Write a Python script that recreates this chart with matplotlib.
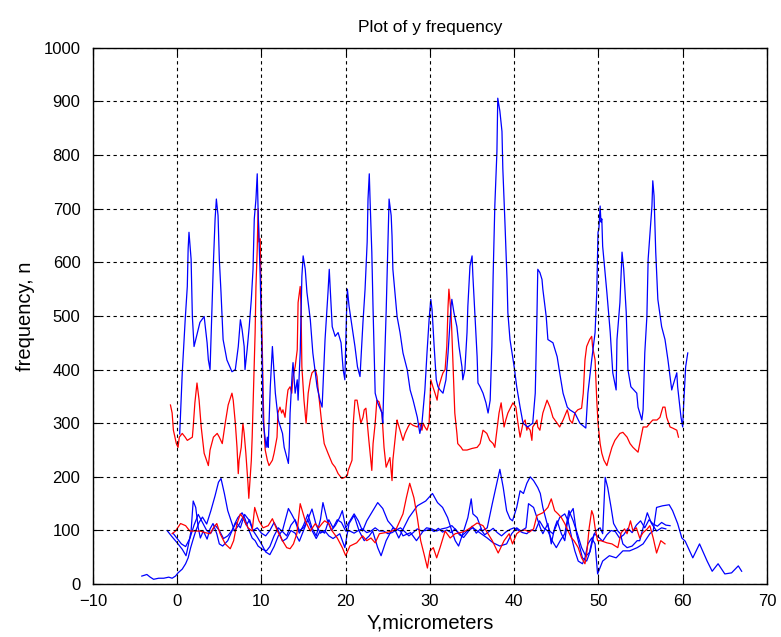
import numpy as np
import matplotlib
matplotlib.use("Agg")
import matplotlib.pyplot as plt

plt.rcParams["font.family"] = ["Liberation Sans", "DejaVu Sans"]

# =========================
# 数据
# =========================

# 上方蓝线
B_HIGH_X = [0.3, 0.6, 0.95, 1.2, 1.3, 1.4, 1.65, 1.8, 2.0, 2.4, 2.7, 3.2, 3.55, 3.7, 3.9, 4.15, 4.3, 4.5,
            4.65, 4.85, 5.0, 5.2, 5.45, 5.9, 6.5, 6.9, 7.25, 7.5, 7.7, 7.95, 8.05, 8.3, 8.55, 8.8, 9.0,
            9.15, 9.35, 9.5, 9.6, 9.85, 10.1, 10.2, 10.55, 10.7, 10.8, 11.05, 11.3, 11.4, 11.65, 12.0,
            12.5, 12.7, 13.2, 13.3, 13.4, 13.65, 13.75, 14.0, 14.25, 14.35, 14.6, 14.8, 14.95, 15.2,
            15.4, 15.8, 16.1, 16.6, 16.95, 17.2, 17.55, 17.9, 18.05, 18.15, 18.4, 18.75, 19.1, 19.45,
            19.7, 19.9, 20.1, 20.2, 20.4, 20.8, 21.1, 21.4, 21.7, 21.9, 22.05, 22.3, 22.55, 22.65, 22.8,
            22.9, 23.1, 23.25, 23.5, 23.8, 24.3, 24.4, 24.55, 24.8, 25.0, 25.15, 25.4, 25.5, 25.6, 26.1,
            26.45, 26.8, 27.3, 27.65, 28.0, 28.5, 28.8, 29.05, 29.4, 29.65, 29.9, 30.1, 30.25, 30.5,
            30.75, 30.95, 31.2, 31.55, 31.9, 32.15, 32.5, 32.6, 32.85, 33.2, 33.45, 33.8, 33.9, 34.15,
            34.4, 34.5, 34.75, 35.0, 35.1, 35.35, 35.6, 35.7, 35.95, 36.3, 36.65, 36.9, 37.15, 37.35,
            37.5, 37.7, 37.95, 38.05, 38.3, 38.55, 38.65, 38.9, 39.15, 39.25, 39.5, 39.75, 40.0, 40.3,
            40.7, 41.05, 41.6, 42.2, 42.5, 42.7, 42.8, 43.05, 43.3, 43.4, 43.8, 44.0, 44.6, 45.1, 45.4,
            45.8, 46.3, 46.6, 47.2, 47.8, 48.5, 48.75, 49.2, 49.6, 49.8, 49.95, 50.05, 50.2, 50.3, 50.4,
            50.5, 51.0, 51.4, 51.7, 52.1, 52.2, 52.55, 52.8, 53.0, 53.3, 53.5, 53.85, 54.2, 54.55, 54.7,
            55.15, 55.3, 55.5, 55.75, 55.9, 56.35, 56.45, 56.6, 56.8, 57.05, 57.5, 57.9, 58.25, 58.7,
            58.8, 59.3, 59.4, 59.8, 60.0, 60.1, 60.35, 60.6]
B_HIGH_Y = [280, 394, 493, 555, 625, 656, 606, 499, 443, 469, 488, 499, 450, 418, 400, 525, 600, 681,
            718, 687, 606, 544, 456, 418, 396, 400, 443, 493, 475, 443, 400, 437, 480, 531, 587,
            681, 718, 765, 700, 574, 405, 306, 255, 274, 255, 368, 443, 418, 356, 306,
            281, 255, 225, 255, 319, 394, 413, 356, 381, 343, 431, 574, 612, 587,
            544, 493, 431, 368, 343, 330, 456, 544, 587, 555, 480, 462, 469, 450,
            400, 381, 506, 550, 518, 475, 443, 405, 387, 443, 488, 550, 638, 718, 765,
            713, 619, 512, 356, 338, 319, 300, 381, 506, 630, 718, 687, 649, 587, 499,
            469, 431, 400, 362, 343, 311, 281, 300, 362, 431, 493, 531, 512, 443,
            381, 368, 362, 356, 381, 431, 518, 531, 506, 480, 443, 405, 381, 400,
            469, 518, 593, 612, 574, 499, 424, 375, 368, 356, 338, 319, 343, 443,
            574, 705, 806, 906, 882, 844, 775, 675, 568, 506, 456, 431, 405, 368,
            330, 300, 293, 300, 356, 499, 587, 581, 568, 550, 499, 456, 450, 424, 394,
            356, 330, 325, 319, 300, 291, 356, 418, 469, 544, 656, 662, 705, 675, 681,
            630, 544, 469, 394, 362, 456, 525, 619, 587, 506, 400, 368, 362, 356, 330,
            306, 325, 431, 499, 606, 705, 752, 724, 619, 531, 480, 456, 418, 362,
            368, 394, 368, 311, 293, 330, 405, 431]

# 中间红线
R_MID_X = [-0.8, -0.6, -0.45, -0.1, 0.1, 0.25, 0.6, 0.95, 1.2, 1.8, 1.9, 2.1, 2.35, 2.6, 2.85, 3.2, 3.7,
           3.9, 4.3, 4.75, 5.0, 5.35, 5.7, 6.05, 6.5, 6.65, 6.9, 7.1, 7.25, 7.35, 7.6, 7.8, 7.95, 8.15,
           8.4, 8.5, 8.8, 8.9, 9.0, 9.25, 9.35, 9.5, 9.6, 9.7, 9.85, 9.95, 10.1, 10.2, 10.3, 10.45,
           10.7, 10.9, 11.3, 11.5, 11.85, 11.95, 12.2, 12.4, 12.55, 12.8, 13.0, 13.15, 13.4, 13.6,
           13.75, 14.0, 14.25, 14.35, 14.6, 14.7, 14.8, 15.05, 15.3, 15.55, 15.8, 16.0, 16.4, 16.6,
           16.7, 16.95, 17.2, 17.45, 17.9, 18.4, 18.75, 19.1, 19.55, 19.9, 20.2, 20.3, 20.75, 20.9,
           21.1, 21.35, 21.6, 21.8, 22.05, 22.2, 22.4, 22.5, 22.75, 23.1, 23.25, 23.5, 23.7, 23.95,
           24.3, 24.55, 24.8, 25.25, 25.5, 25.6, 25.85, 26.1, 26.2, 26.45, 26.8, 27.05, 27.4, 27.65,
           28.0, 28.5, 28.8, 29.05, 29.2, 29.4, 29.65, 29.9, 30.1, 30.35, 30.6, 30.85, 31.05, 31.4,
           31.55, 31.8, 32.0, 32.15, 32.25, 32.5, 32.6, 32.75, 32.95, 33.2, 33.3, 33.7, 33.9, 34.4,
           35.0, 35.6, 35.95, 36.3, 36.75, 37.1, 37.5, 37.7, 37.95, 38.2, 38.45, 38.55, 38.8, 39.0,
           39.25, 39.6, 39.85, 40.2, 40.45, 40.7, 41.05, 41.3, 41.5, 41.6, 41.9, 42.1, 42.2, 42.5,
           42.7, 42.8, 43.05, 43.4, 43.9, 44.25, 44.6, 45.1, 45.4, 45.8, 46.3, 46.6, 46.9, 47.2,
           47.55, 48.0, 48.2, 48.4, 48.6, 48.95, 49.2, 49.3, 49.6, 49.8, 49.95, 50.2, 50.4, 50.65,
           51.0, 51.25, 51.6, 51.95, 52.55, 52.9, 53.4, 53.75, 54.1, 54.7, 55.15, 55.3, 55.75, 56.1,
           56.45, 56.95, 57.3, 57.65, 57.9, 58.1, 58.5, 58.8, 59.3, 59.5]
R_MID_Y = [334, 319, 287, 262, 255, 274, 281, 274, 268, 274, 293, 338, 375, 343, 293, 244, 221,
           250, 274, 281, 274, 262, 300, 334, 356, 343, 300, 255, 206, 231, 255, 300, 281, 244,
           188, 160, 231, 274, 330, 469, 555, 625, 700, 638, 644, 544, 443, 356, 293, 250,
           231, 221, 231, 244, 274, 319, 330, 319, 325, 311, 343, 362, 368, 356,
           387, 405, 437, 525, 555, 518, 405, 343, 300, 356, 381, 394, 400, 387,
           368, 330, 293, 262, 244, 225, 218, 206, 197, 199, 203, 212, 231, 300,
           343, 343, 319, 300, 311, 325, 328, 311, 268, 212, 262, 300, 343, 340,
           319, 255, 218, 236, 193, 231, 268, 306, 300, 287, 268, 281, 293, 300,
           296, 293, 300, 287, 300, 293, 287, 300, 381, 368, 356, 343, 368, 387,
           394, 400, 443, 518, 550, 506, 469, 405, 319, 281, 262, 255, 250, 250,
           253, 255, 262, 287, 281, 268, 262, 255, 287, 319, 338, 325, 293, 306,
           319, 330, 338, 330, 300, 274, 300, 306, 287, 293, 287, 268, 293, 300,
           306, 293, 287, 319, 343, 330, 311, 300, 293, 306, 325, 306, 300, 319,
           325, 328, 356, 418, 443, 456, 462, 443, 418, 343, 300, 262, 244, 231,
           221, 236, 255, 268, 281, 283, 274, 262, 255, 246, 281, 293, 293, 300,
           306, 306, 311, 330, 330, 311, 293, 291, 287, 274]

# 下方蓝线 1（从 -4 到 67）
B_LOW1_X = [-4.2, -3.6, -3.2, -2.8, -2.2, -1.6, -1.0, -0.6, -0.2, 0.1, 0.6, 1.0, 1.3, 1.6, 1.9, 2.2,
            2.6, 3.0, 3.5, 4.0, 4.5, 4.9, 5.2, 5.6, 6.0, 6.4, 6.8, 7.3, 7.8, 8.2, 8.6, 9.0, 9.5,
            10.0, 10.5, 11.0, 11.5, 12.0, 12.5, 13.2, 13.6, 14.0, 14.5, 15.0, 15.5, 16.0, 16.5, 17.0,
            17.3, 17.8, 18.3, 18.8, 19.3, 19.6, 20.0, 20.5, 21.0, 21.5, 22.0, 22.5, 23.0, 23.8,
            24.4, 25.0, 25.8, 26.3, 26.7, 27.5, 28.5, 29.5, 30.3, 30.9, 31.5, 32.1, 32.6, 33.0,
            33.4, 34.0, 34.5, 34.9, 35.1, 35.6, 36.2, 36.8, 37.4, 38.0, 38.3, 38.7, 39.1, 39.5,
            39.8, 40.3, 40.7, 41.1, 41.5, 41.9, 42.3, 42.8, 43.1, 43.4, 43.9, 44.2, 44.6, 45.1,
            45.4, 46.0, 46.4, 46.9, 47.2, 47.6, 48.1, 48.4, 48.75, 49.2, 49.6, 49.9, 50.5, 51.3,
            52.1, 52.9, 53.7, 54.6, 55.3, 56.1, 56.5, 56.9, 57.6, 58.4, 58.8, 59.4, 59.9, 60.3,
            61.2, 62.0, 62.9, 63.5, 64.2, 65.0, 65.8, 66.6, 67.0]
B_LOW1_Y = [15, 18, 13, 9, 11, 11, 13, 11, 15, 21, 28, 38, 49, 68, 84, 99,
            115, 125, 112, 137, 165, 190, 197, 169, 137, 118, 99, 110, 125, 110, 120, 100, 88,
            75, 60, 55, 70, 90, 100, 141, 130, 118, 95, 110, 130, 105, 90, 120,
            152, 120, 100, 110, 125, 137, 105, 118, 131, 118, 99, 118, 131, 152,
            141, 118, 103, 86, 99, 124, 146, 155, 169, 152, 143, 124, 99, 81,
            71, 99, 124, 159, 131, 124, 99, 105, 150, 193, 214, 180, 137, 122,
            118, 143, 174, 169, 188, 200, 193, 180, 169, 143, 113, 99, 94, 113,
            124, 131, 118, 81, 62, 43, 38, 49, 75, 86, 75, 19, 43, 53,
            49, 62, 62, 68, 75, 94, 99, 143, 146, 148, 137, 113, 86, 80,
            49, 75, 43, 24, 38, 19, 21, 34, 24]

# 下方蓝线 2
B_LOW2_X = [-1.2, -0.7, 0.0, 0.6, 1.05, 1.3, 1.65, 1.9, 2.2, 2.5, 2.75, 3.1, 3.55, 3.9, 4.25, 4.7,
            5.0, 5.4, 6.0, 6.5, 6.85, 7.2, 7.7, 8.05, 8.4, 8.9, 9.25, 9.6, 10.1, 10.6, 11.0, 11.5,
            12.0, 12.5, 13.0, 13.5, 14.0, 14.5, 15.0, 15.5, 16.0, 16.5, 17.0, 17.5, 18.0, 18.5,
            19.3, 19.9, 20.4, 21.0, 21.6, 22.2, 22.8, 23.2, 23.8, 24.2, 24.8, 25.6, 26.5, 26.8,
            27.7, 28.4, 29.2, 29.6, 30.2, 30.8, 31.4, 32.0, 32.6, 33.2, 33.8, 34.4, 35.1, 35.9,
            36.8, 37.5, 38.3, 39.1, 39.7, 40.3, 40.8, 41.4, 41.7, 42.3, 42.7, 43.1, 43.4, 44.0,
            44.4, 44.8, 45.1, 45.6, 46.0, 46.3, 46.6, 47.0, 47.4, 47.8, 48.1, 48.6, 48.9, 49.3,
            49.7, 50.2, 50.5, 50.8, 51.1, 51.5, 51.8, 52.3, 52.6, 52.9, 53.4, 54.0, 54.6, 54.9,
            55.3, 55.8, 56.3, 56.9, 57.5, 58.0]
B_LOW2_Y = [100, 90, 77, 65, 53, 71, 99, 155, 143, 105, 86, 99, 84, 103, 113, 94,
            75, 71, 81, 99, 113, 124, 133, 122, 105, 86, 81, 71, 65, 62, 70, 90,
            105, 98, 90, 110, 120, 100, 105, 120, 140, 110, 95, 100, 90, 85,
            94, 68, 113, 128, 99, 81, 90, 99, 68, 53, 81, 105, 99, 90,
            96, 81, 99, 105, 103, 99, 103, 105, 109, 99, 90, 99, 105, 96,
            86, 77, 71, 75, 94, 105, 99, 105, 150, 143, 124, 105, 94, 113,
            75, 105, 118, 94, 81, 113, 131, 141, 94, 68, 49, 43, 56, 86,
            99, 105, 94, 199, 180, 143, 113, 99, 94, 75, 68, 71, 81, 81,
            105, 133, 113, 99, 105, 103]

# 下方蓝线 3
B_LOW3_X = [-0.5, 0.0, 0.5, 1.0, 1.5, 2.0, 2.5, 3.0, 3.5, 4.0, 4.5, 5.0, 5.5, 6.0, 6.5, 7.0, 7.5,
            8.0, 8.5, 9.0, 9.5, 10.0, 10.5, 11.0, 11.5, 12.0, 12.5, 13.0, 13.5, 14.0, 14.5, 15.0,
            15.5, 16.0, 16.5, 17.0, 17.5, 18.0, 18.5, 19.0, 19.5, 20.0, 20.5, 21.0, 21.5, 22.0,
            22.5, 23.0, 23.5, 24.0, 24.5, 25.0, 25.5, 26.0, 26.5, 27.0, 27.5, 28.0, 28.5, 29.0,
            29.5, 30.0, 30.5, 31.0, 31.5, 32.0, 32.5, 33.0, 33.5, 34.0, 34.5, 35.0, 35.5, 36.0,
            36.5, 37.0, 37.5, 38.0, 38.5, 39.0, 39.5, 40.0, 40.5, 41.0, 41.5, 42.0, 42.5, 43.0,
            43.5, 44.0, 44.5, 45.0, 45.5, 46.0, 46.5, 47.0, 47.5, 48.0, 48.5, 49.0, 49.5, 50.0,
            50.5, 51.0, 51.5, 52.0, 52.5, 53.0, 53.5, 54.0, 54.5, 55.0, 55.5, 56.0, 56.5, 57.0,
            57.5, 58.0, 58.5]
B_LOW3_Y = [95, 85, 75, 70, 85, 110, 130, 115, 100, 95, 110, 100, 85, 90, 100, 115, 105,
            130, 120, 100, 105, 95, 90, 100, 115, 100, 80, 85, 100, 95, 80, 100,
            120, 100, 85, 100, 95, 120, 105, 120, 115, 99, 99, 95, 100, 103,
            96, 99, 105, 99, 99, 94, 96, 101, 105, 98, 90, 96, 103, 99,
            100, 102, 98, 104, 97, 101, 96, 103, 92, 87, 97, 108, 95, 103,
            92, 98, 104, 96, 90, 97, 102, 105, 100, 96, 94, 101, 99, 118,
            105, 99, 81, 68, 82, 94, 137, 118, 94, 68, 52, 60, 94, 88,
            80, 92, 100, 98, 86, 92, 104, 96, 110, 118, 105, 120, 112, 108,
            115, 110, 109]

# 下方红线
R_LOW_X = [-0.6, -0.2, 0.4, 1.0, 1.5, 2.7, 3.3, 3.9, 4.3, 4.7, 5.1, 5.7, 6.3, 6.7, 7.1, 7.5, 7.8, 8.4,
           8.9, 9.2, 9.7, 10.2, 10.8, 11.3, 11.9, 12.5, 13.0, 13.4, 13.8, 14.2, 14.6, 15.2, 15.8,
           16.4, 16.8, 17.2, 17.5, 18.0, 18.4, 19.0, 19.6, 20.0, 20.5, 21.3, 22.0, 22.5, 23.0, 23.5,
           24.0, 24.7, 25.5, 26.0, 26.8, 27.2, 27.6, 28.1, 28.5, 28.9, 29.3, 29.7, 30.0, 30.4, 30.8,
           31.2, 31.8, 32.4, 33.0, 33.6, 34.2, 34.8, 35.6, 36.3, 36.7, 37.4, 38.1, 38.8, 39.4,
           39.8, 40.3, 40.7, 41.3, 41.8, 42.3, 42.7, 43.4, 44.0, 44.4, 44.8, 45.2, 45.6, 46.0,
           46.4, 46.8, 47.1, 47.6, 48.0, 48.4, 48.6, 48.9, 49.2, 49.4, 49.6, 49.9, 50.3, 51.0,
           51.6, 52.3, 52.7, 53.1, 53.4, 53.8, 54.1, 54.5, 54.9, 55.3, 55.8, 56.1, 56.5, 56.9,
           57.4, 57.9]
R_LOW_Y = [94, 99, 113, 109, 99, 99, 96, 94, 105, 113, 94, 75, 66, 81, 113, 131, 124, 105,
           99, 143, 118, 105, 109, 122, 99, 81, 68, 66, 75, 94, 150, 118, 99,
           113, 105, 113, 118, 113, 99, 86, 68, 53, 71, 77, 90, 81, 86, 77,
           94, 96, 99, 103, 131, 161, 188, 161, 124, 81, 56, 30, 62, 68, 49,
           68, 99, 86, 94, 96, 99, 105, 114, 109, 99, 81, 58, 81, 94,
           75, 94, 99, 101, 97, 103, 128, 133, 143, 159, 137, 131, 124, 113,
           99, 86, 81, 68, 49, 38, 56, 105, 137, 128, 105, 81, 81, 77,
           75, 68, 96, 103, 94, 118, 99, 105, 86, 96, 103, 109, 86, 58,
           81, 75]

# =========================
# 绘图
# =========================

fig = plt.figure(figsize=(7.81, 6.37), dpi=100)
ax = fig.add_axes([0.119, 0.083, 0.863, 0.842])

blue = (0, 0, 1)
red = (1, 0, 0)
lw = 0.9

ax.plot(B_LOW1_X, B_LOW1_Y, color=blue, lw=lw)
ax.plot(B_LOW2_X, B_LOW2_Y, color=blue, lw=lw)
ax.plot(B_LOW3_X, B_LOW3_Y, color=blue, lw=lw)
ax.plot(R_LOW_X, R_LOW_Y, color=red, lw=lw)
ax.plot(R_MID_X, R_MID_Y, color=red, lw=lw)
ax.plot(B_HIGH_X, B_HIGH_Y, color=blue, lw=lw)

ax.set_xlim(-10, 70)
ax.set_ylim(0, 1000)
ax.set_xticks(np.arange(-10, 71, 10))
ax.set_yticks(np.arange(0, 1001, 100))

ax.grid(True, color="black", linestyle=(0, (3, 3)), linewidth=0.8)
ax.set_axisbelow(False)

ax.tick_params(direction="in", top=True, right=True, length=5, labelsize=12)
ax.tick_params(axis="x", pad=7)
ax.tick_params(axis="y", pad=9)
for sp in ax.spines.values():
    sp.set_linewidth(1.0)

ax.set_title("Plot of y frequency", fontsize=12.5, pad=11)
ax.set_xlabel("Y,micrometers", fontsize=14.5, labelpad=3)
ax.set_ylabel("frequency, n", fontsize=14.5, labelpad=6)

fig.savefig("out.png", dpi=100)
